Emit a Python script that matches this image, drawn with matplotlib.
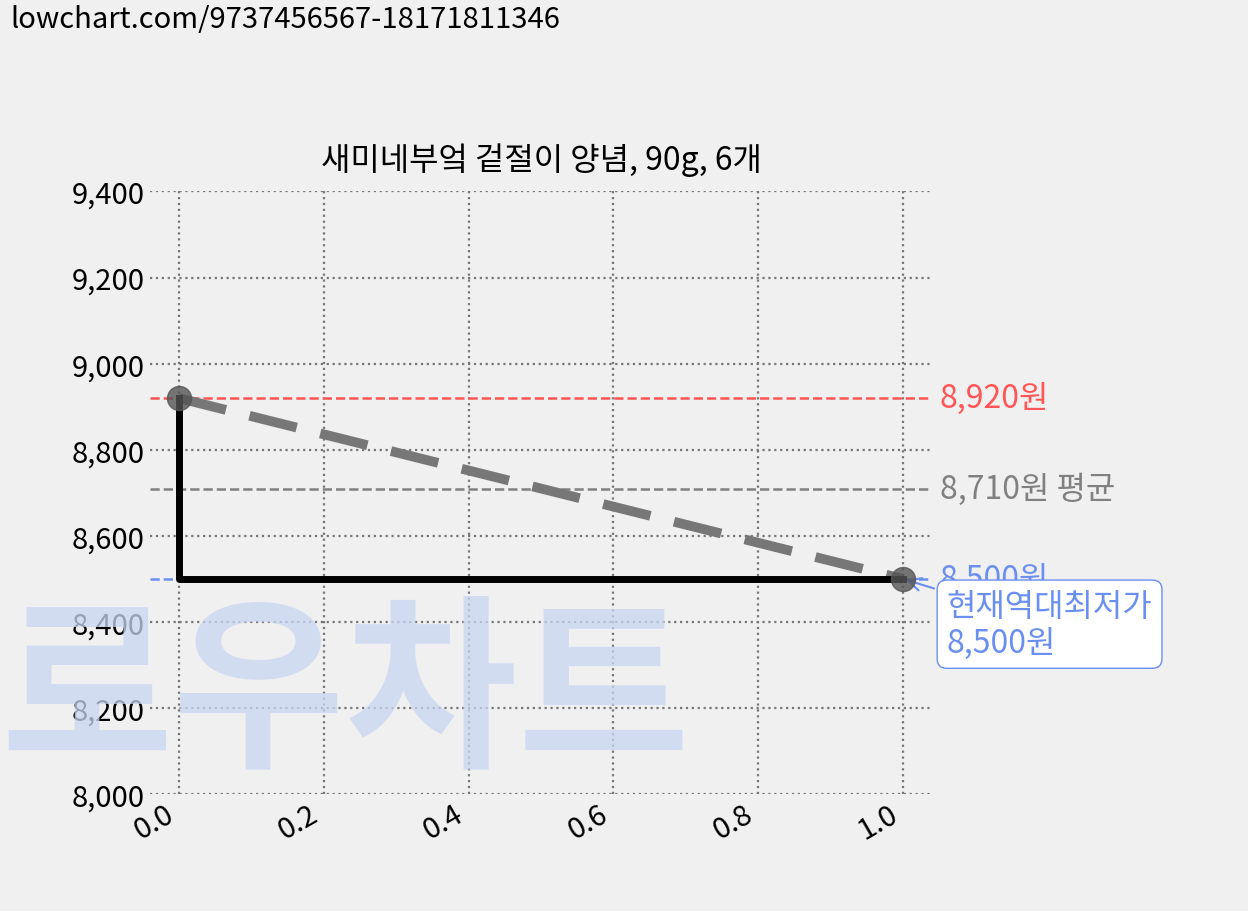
import matplotlib
matplotlib.use("Agg")
import matplotlib.pyplot as plt

plt.rcParams['font.family'] = ['Noto Sans CJK KR', 'DejaVu Sans']

xs = [0.0, 1.0]
prices = [8920, 8500]
max_p, avg_p, min_p = 8920, 8710, 8500
title = "새미네부엌 겉절이 양념, 90g, 6개"
yticks = [8000, 8200, 8400, 8600, 8800, 9000, 9200, 9400]
xticks = [0.0, 0.2, 0.4, 0.6, 0.8, 1.0]

fig = plt.figure(figsize=(12.48, 9.12), dpi=100, facecolor='#f0f0f0')
ax = fig.add_axes([0.120, 0.128, 0.627, 0.661], facecolor='#f0f0f0')

fig.text(0.0, 0.235, "로우차트", fontsize=135, fontweight='bold',
         color='#c9d6f2', alpha=0.75, zorder=10, va='center', ha='left',
         transform=fig.transFigure)
fig.text(0.008, 0.995, "lowchart.com/9737456567-18171811346", fontsize=21, va='top', ha='left')

ax.grid(True, linestyle=':', color='#777777', linewidth=1.6)
for s in ax.spines.values():
    s.set_visible(False)
ax.tick_params(length=0, labelsize=21)

ax.axhline(max_p, color='#ff5555', linestyle='--', linewidth=1.8)
ax.axhline(avg_p, color='#808080', linestyle='--', linewidth=1.8)
ax.axhline(min_p, color='#6a8ff0', linestyle='--', linewidth=1.8)

ax.plot(xs, prices, color='#777777', linestyle='--', linewidth=7, dashes=(5, 2.5), zorder=3)
ax.plot([0, 0, 1], [max_p, min_p, min_p], color='black', linewidth=5, zorder=4)
ax.scatter(xs, prices, s=300, color='#555555', alpha=0.8, zorder=5)

ax.text(1.05, max_p, f"{max_p:,}원", color='#ff5555', fontsize=23, va='center')
ax.text(1.05, avg_p, f"{avg_p:,}원 평균", color='#808080', fontsize=23, va='center')
ax.text(1.05, min_p, f"{min_p:,}원", color='#6a8ff0', fontsize=23, va='center')
ax.annotate(f"현재역대최저가\n{min_p:,}원", xy=(1.0, min_p), xytext=(1.06, 8395),
            color='#6a8ff0', fontsize=23, va='center', ha='left',
            bbox=dict(boxstyle='round,pad=0.3', fc='white', ec='#6a8ff0'),
            arrowprops=dict(arrowstyle='->', color='#6a8ff0', lw=1.5), annotation_clip=False)

ax.set_xlim(-0.04, 1.04)
ax.set_ylim(8000, 9400)
ax.set_yticks(yticks)
ax.set_yticklabels([f"{v:,}" for v in yticks])
ax.set_xticks(xticks)
ax.set_xticklabels([f"{v:.1f}" for v in xticks], rotation=30, ha='right')
ax.set_title(title, fontsize=23, pad=16)

fig.savefig("out.png", dpi=100, facecolor=fig.get_facecolor())
